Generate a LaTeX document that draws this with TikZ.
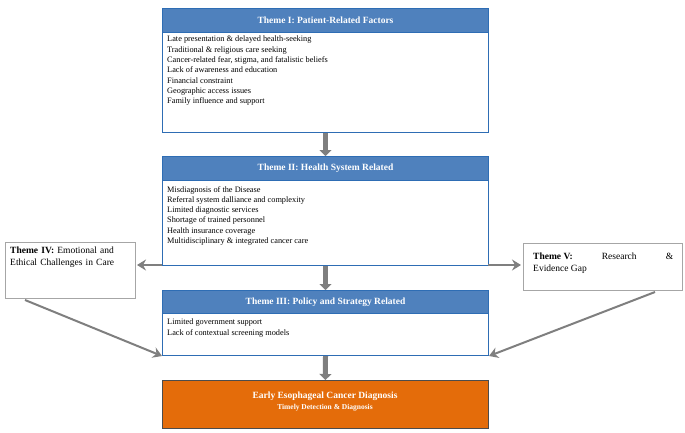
\documentclass[tikz,border=0pt]{standalone}
\usepackage{fontspec}
\setmainfont{Liberation Serif}
\usetikzlibrary{arrows.meta}
\definecolor{hdr}{HTML}{4F81BD}
\definecolor{hdrb}{HTML}{2E6DB4}
\definecolor{org}{HTML}{E46C0A}
\definecolor{gr}{HTML}{7F7F7F}
\begin{document}
\begin{tikzpicture}[x=1pt,y=-1pt,
 hd/.style={draw=hdrb,line width=1pt,fill=hdr,text=white,font=\bfseries\fontsize{9.5}{11}\selectfont,minimum width=326pt,minimum height=24pt,anchor=north west,inner sep=0pt},
 bd/.style={draw=hdrb,line width=1pt,fill=white,text width=316pt,align=left,font=\fontsize{8.3}{10.3}\selectfont,anchor=north west,inner xsep=5pt,inner ysep=0pt},
 side/.style={draw=gray!70,line width=1pt,fill=white,font=\fontsize{9.5}{12}\selectfont,anchor=north west,inner sep=4pt},
 big/.style={draw=gr,line width=5pt,-{Triangle[length=6pt,width=12pt]}},
 thin/.style={draw=gr,line width=2pt,-{Stealth[length=9pt,width=11pt,inset=3pt]}}]
\useasboundingbox (0,0) rectangle (685,432);
\node[hd] (h1) at (162,8) {Theme I: Patient-Related Factors};
\node[bd,minimum height=100pt] (b1) at (162,32) {};
\node[anchor=north west,font=\fontsize{8.3}{10.3}\selectfont,align=left,inner sep=0pt] (t1) at (167,36) {Late presentation \& delayed health-seeking\\Traditional \& religious care seeking\\Cancer-related fear, stigma, and fatalistic beliefs\\Lack of awareness and education\\Financial constraint\\Geographic access issues\\Family influence and support};
\node[hd] (h2) at (162,156) {Theme II: Health System Related};
\node[bd,minimum height=85pt] (b2) at (162,180) {};
\node[anchor=north west,font=\fontsize{8.3}{10.3}\selectfont,align=left,inner sep=0pt] (t2) at (167,186) {Misdiagnosis of the Disease\\Referral system dalliance and complexity\\Limited diagnostic services\\Shortage of trained personnel\\Health insurance coverage\\Multidisciplinary \& integrated cancer care};
\node[hd] (h3) at (162,290) {Theme III: Policy and Strategy Related};
\node[bd,minimum height=42pt] (b3) at (162,313) {};
\node[anchor=north west,font=\fontsize{8.3}{10.3}\selectfont,align=left,inner sep=0pt] (t3) at (167,319) {Limited government support\\Lack of contextual screening models};
\node[draw=gray!60!black,line width=0.8pt,fill=org,text=white,anchor=north west,minimum width=326pt,minimum height=48pt,inner sep=0pt] (o) at (162,380) {};
\node[text=white,font=\bfseries\fontsize{9.5}{11}\selectfont] (o1) at (325,396) {Early Esophageal Cancer Diagnosis};
\node[text=white,font=\bfseries\fontsize{7.5}{9}\selectfont] (o2) at (325,408) {Timely Detection \& Diagnosis};
\node[side,minimum width=130pt,minimum height=56pt] (s4) at (5,242) {};
\node[anchor=north west,font=\fontsize{9.5}{12}\selectfont,align=left,inner sep=0pt,text width=120pt] (s4t) at (10,247) {\textbf{Theme IV:} Emotional and Ethical Challenges in Care};
\node[side,minimum width=159pt,minimum height=47pt] (s5) at (523,243) {};
\node[anchor=north west,font=\fontsize{9.5}{12}\selectfont,align=justify,inner sep=0pt,text width=140pt] (s5t) at (533,253) {\textbf{Theme V:}\hfill Research\hfill\&\\Evidence Gap};
\draw[big] (b1.south) -- (h2.north);
\draw[big] (b2.south) -- (h3.north);
\draw[big] (b3.south) -- (o.north);
\coordinate (l2) at (162,265);
\coordinate (r2) at (488,265);
\coordinate (l4) at (137,265);
\coordinate (r5) at (521,265);
\draw[thin] (l2) -- (l4);
\draw[thin] (r2) -- (r5);
\coordinate (d4) at (25,300);
\coordinate (d5) at (655,292);
\draw[thin] (d4) -- (b3.south west);
\draw[thin] (d5) -- (b3.south east);
\end{tikzpicture}
\end{document}
